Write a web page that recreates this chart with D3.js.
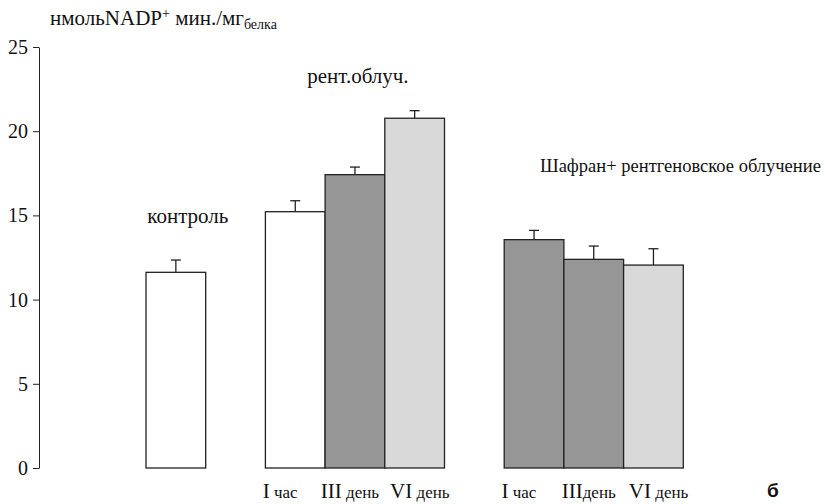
<!DOCTYPE html>
<html>
<head>
<meta charset="utf-8">
<script src="https://cdn.jsdelivr.net/npm/d3@7"></script>
<style>
  body { margin: 0; background: #fff; }
  svg text { font-family: "Liberation Serif", "Times New Roman", serif; fill: #111; }
</style>
</head>
<body>
<div class="canva"></div>
<script>
// data
const slots = d3.range(9);                    // 9 slots, 1 and 5 are gaps
const barSlot = [0, 2, 3, 4, 6, 7, 8];
const groupOf = [0, 1, 1, 1, 2, 2, 2];
const values = [11.62, 15.22, 17.42, 20.77, 13.56, 12.39, 12.05];
const errors = [0.73, 0.65, 0.45, 0.45, 0.55, 0.79, 0.97];
const shade = ["white", "white", "dark", "light", "dark", "dark", "light"];
const catLabels = ["", "I час", "III день", "VI день", "I час", "IIIдень", "VI день"];
const yTicks = [0, 5, 10, 15, 20, 25];

const colors = { white: "#ffffff", dark: "#969696", light: "#d9d9d9" };

const svg = d3.select(".canva").append("svg")
    .attr("width", 825)
    .attr("height", 504);

const y = d3.scaleLinear().domain([0, 25]).range([468, 47]);
const x = d3.scaleBand().domain(slots).range([146, 683.3]).padding(0);
const mid = s => x(s) + x.bandwidth() / 2;

// y axis
const yAxis = d3.axisLeft(y).tickValues(yTicks).tickSize(6).tickPadding(5).tickSizeOuter(0);
const ag = svg.append("g")
    .attr("transform", "translate(39,0)")
    .call(yAxis);
ag.select(".domain").attr("stroke", "#222");
ag.selectAll(".tick line").attr("stroke", "#222");
ag.selectAll(".tick text")
    .style("font-size", "20px")
    .attr("fill", "#111");

// bars
const data = values.map((v, i) => ({ v, e: errors[i], slot: barSlot[i], g: groupOf[i], shade: shade[i], lab: catLabels[i] }));

svg.selectAll("rect.bar")
  .data(data)
  .enter()
  .append("rect")
    .attr("class", "bar")
    .attr("x", d => x(d.slot))
    .attr("y", d => y(d.v))
    .attr("width", x.bandwidth())
    .attr("height", d => y(0) - y(d.v))
    .attr("fill", d => colors[d.shade])
    .attr("stroke", "#222")
    .attr("stroke-width", 1.3);

// error bars
const eb = svg.selectAll("g.err")
  .data(data)
  .enter()
  .append("g")
    .attr("class", "err")
    .attr("stroke", "#222")
    .attr("stroke-width", 1.3);
eb.append("line")
    .attr("x1", d => mid(d.slot))
    .attr("x2", d => mid(d.slot))
    .attr("y1", d => y(d.v))
    .attr("y2", d => y(d.v + d.e));
eb.append("line")
    .attr("x1", d => mid(d.slot) - 5)
    .attr("x2", d => mid(d.slot) + 5)
    .attr("y1", d => y(d.v + d.e))
    .attr("y2", d => y(d.v + d.e));

// category labels, spread a bit wider than the bars of their group
const groupMid = g => d3.mean(data.filter(d => d.g === g), d => mid(d.slot));
const lab = svg.selectAll("text.cat")
  .data(data.filter(d => d.lab !== ""))
  .enter()
  .append("text")
    .attr("class", "cat")
    .attr("x", d => groupMid(d.g) + (mid(d.slot) - groupMid(d.g)) * 1.17 - 5)
    .attr("y", 498)
    .attr("text-anchor", "middle");
lab.append("tspan").style("font-size", "21px").text(d => d.lab.match(/^[IVX]+/)[0]);
lab.append("tspan").style("font-size", "17px").text(d => d.lab.replace(/^[IVX]+/, ""));

// group labels
svg.append("text")
    .attr("x", mid(0) + 12)
    .attr("y", 223)
    .attr("text-anchor", "middle")
    .style("font-size", "21px")
    .text("контроль");

svg.append("text")
    .attr("x", mid(3) + 3)
    .attr("y", 83)
    .attr("text-anchor", "middle")
    .style("font-size", "21px")
    .text("рент.облуч.");

svg.append("text")
    .attr("x", 540)
    .attr("y", 172)
    .style("font-size", "18.5px")
    .text("Шафран+ рентгеновское облучение");

// y title
const t = svg.append("text")
    .attr("x", 50)
    .attr("y", 25)
    .style("font-size", "21px");
t.append("tspan").text("нмольNADP");
t.append("tspan").attr("dy", -7).style("font-size", "14px").text("+");
t.append("tspan").attr("dy", 7).text(" мин./мг");
t.append("tspan").attr("dy", 4).style("font-size", "14px").text("белка");

// panel letter
svg.append("text")
    .attr("x", 767)
    .attr("y", 497)
    .style("font-family", "Liberation Sans, Arial, sans-serif")
    .style("font-weight", "bold")
    .style("font-size", "19px")
    .text("б");
</script>
</body>
</html>
